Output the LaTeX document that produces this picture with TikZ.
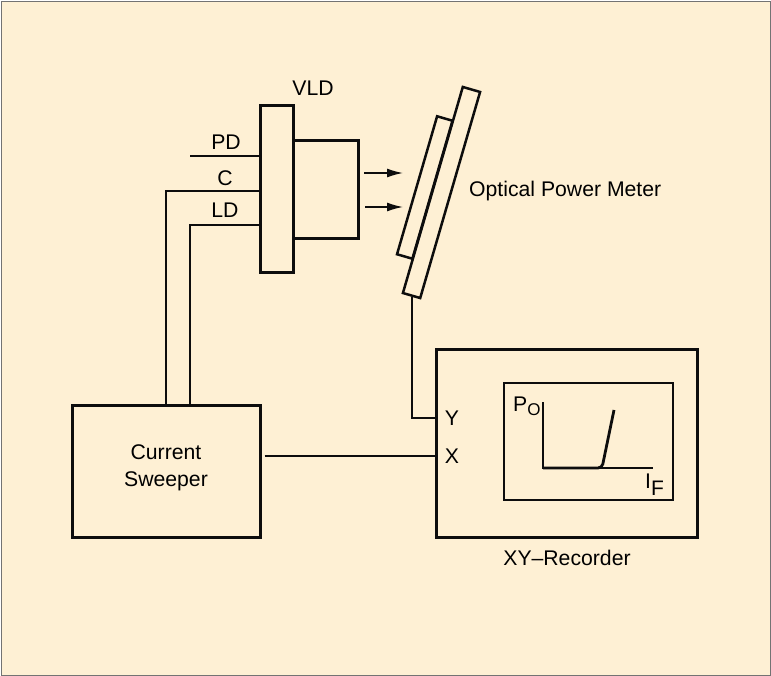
\documentclass[tikz,border=0pt]{standalone}
\usepackage{fontspec}
\setmainfont{Liberation Sans}
\usetikzlibrary{arrows.meta}

\begin{document}
\begin{tikzpicture}[x=1pt,y=-1pt]
    \tikzset{
        panel/.style={draw=black!55,fill=panelcol,line width=0.9pt,minimum width=769pt,minimum height=674pt},
        thick box/.style={draw=black!95,line width=3pt,inner sep=0pt,align=center,font=\fontsize{21.2}{27}\selectfont},
        slanted box/.style={draw=black!95,line width=2.5pt,inner sep=0pt,rotate=-16.2},
        thin box/.style={draw=black!95,line width=1.7pt,inner sep=0pt},
        wire/.style={draw=black!95,line width=1.5pt},
        beam/.style={wire,-{Latex[length=16pt,width=9pt]}},
        label/.style={inner sep=0pt,font=\fontsize{21.2}{27}\selectfont,align=center}}
    \definecolor{panelcol}{RGB}{254,240,212}
    \useasboundingbox (0,0) rectangle (771,676);
    \node[panel] (frame) at (385.5,338) {};

    \node[thick box,minimum width=33pt,minimum height=167pt] (flange) at (276.5,189.5) {};
    \node[thick box,minimum width=65pt,minimum height=98pt] (body) at (325.5,190) {};
    \node[slanted box,minimum width=18pt,minimum height=214.6pt] (plate) at (441.5,192.5) {};
    \node[slanted box,minimum width=16pt,minimum height=143.7pt] (sensor) at (424.75,187.5) {};
    \node[thick box,minimum width=188pt,minimum height=132pt] (sweeper) at (166,471) {Current\\Sweeper\\[-17pt]\mbox{}};
    \node[thick box,minimum width=261pt,minimum height=188pt] (recorder) at (566.5,443) {};
    \node[thin box,minimum width=169pt,minimum height=117pt] (plot) at (588.5,441.5) {};

    \coordinate (pd end) at (190,156);
    \coordinate (beam1) at (364,173);
    \coordinate (beam2) at (365,207);
    \coordinate (beam1 end) at (403,173);
    \coordinate (beam2 end) at (403,207);
    \coordinate (origin) at (543,468);
    \coordinate (y top) at (543,402);
    \coordinate (x end) at (653,468);
    \coordinate (knee) at (602,468);
    \coordinate (curve end) at (614,410);

    \draw[wire] (pd end) -- (pd end -| flange.west);
    \draw[wire] (flange.west |- 0,191) -| (sweeper.north);
    \draw[wire] (flange.west |- 0,225) -| (sweeper.north -| 190,0);
    \draw[beam] (beam1) -- (beam1 end);
    \draw[beam] (beam2) -- (beam2 end);
    \draw[wire] (412,297) |- (recorder.west |- 0,418);
    \draw[wire,shorten <=3pt] (sweeper.east |- 0,456) -- (recorder.west |- 0,456);
    \draw[wire] (y top) -- (origin) -- (x end);
    \draw[line width=2.8pt,draw=black!95,rounded corners=4pt] (origin) -- (knee) -- (curve end);

    \node[label] (vld) at (313,88) {VLD};
    \node[label] (pd) at (226,142) {PD};
    \node[label] (c) at (225,178) {C};
    \node[label] (ld) at (225,210) {LD};
    \node[label,anchor=base west] (meter) at (469,197) {Optical Power Meter};
    \node[label] (y) at (452,418) {Y};
    \node[label] (x) at (452,456) {X};
    \node[label,anchor=base west] (po) at (513,411) {P\raisebox{-4pt}{\fontsize{17}{17}\selectfont O}};
    \node[label,anchor=base west] (if) at (645,488) {I\raisebox{-7pt}{\fontsize{21}{21}\selectfont F}};
    \node[label] (xy) at (567,558) {XY--Recorder};
\end{tikzpicture}
\end{document}
